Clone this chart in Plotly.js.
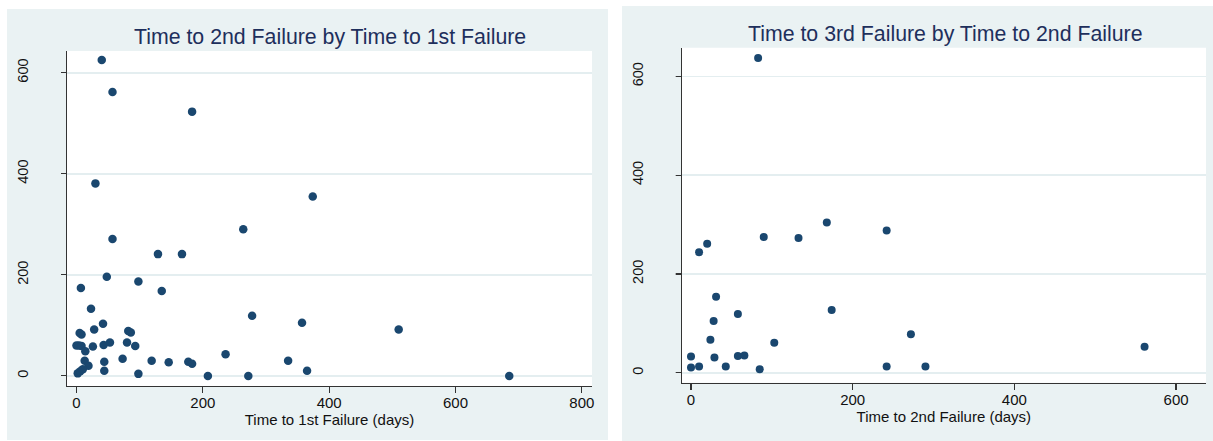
<!DOCTYPE html>
<html>
<head>
<meta charset="utf-8">
<script src="https://cdn.plot.ly/plotly-3.0.1.min.js"></script>
<style>html,body{margin:0;padding:0;background:#fff;}#chart{width:1213px;height:441px;}</style>
</head>
<body>
<div id="chart"></div>
<script>
// Left panel: Time to 1st failure (x) vs time to 2nd failure (y)
const time1st = [40, 57, 183, 30, 374, 264, 57, 129, 167, 48, 98, 7, 135, 23, 278, 357, 42, 510, 28, 82, 86, 5, 8, 0, 4, 8, 14, 26, 43, 53, 80, 93, 73, 119, 146, 177, 183, 236, 335, 44, 44, 13, 19, 2, 6, 10, 98, 208, 272, 365, 685];
const time2nd_a = [625, 562, 523, 381, 355, 290, 271, 241, 241, 196, 187, 174, 168, 133, 119, 105, 103, 92, 92, 89, 86, 85, 82, 60, 60, 59, 49, 58, 61, 66, 66, 59, 34, 30, 27, 28, 24, 43, 30, 28, 10, 30, 20, 5, 9, 13, 4, 0, 0, 10, 0];

// Right panel: Time to 2nd failure (x) vs time to 3rd failure (y)
const time2nd_b = [83, 168, 242, 90, 133, 20, 10, 31, 58, 174, 28, 24, 103, 0, 29, 58, 66, 0, 10, 43, 85, 242, 272, 290, 561];
const time3rd = [637, 304, 288, 275, 273, 261, 244, 154, 119, 127, 105, 67, 61, 33, 31, 34, 35, 11, 13, 13, 7, 13, 78, 13, 53];

const xTicksLeft = [0, 200, 400, 600, 800];
const xTicksRight = [0, 200, 400, 600];
const yTicks = [0, 200, 400, 600];

const titleLeft = "Time to 2nd Failure by Time to 1st Failure";
const titleRight = "Time to 3rd Failure by Time to 2nd Failure";
const xTitleLeft = "Time to 1st Failure (days)";
const xTitleRight = "Time to 2nd Failure (days)";

const W = 1213, H = 441;
const px = v => v / W;
const py = v => 1 - v / H;

const navy = '#1a476f';
const bgPanel = '#eaf2f3';
const gridCol = '#e4eef0';
const FONT = 'Liberation Sans, Arial, sans-serif';

const yRangeLeft = [-20, 643];
const yRangeRight = [-20, 658];
const Y_TICKLEN = 32;   // long tick so labels sit far from the axis; outer part is masked
const VIS_TICK = 6;

const traces = [
  {x: time1st, y: time2nd_a, type: 'scatter', mode: 'markers', xaxis: 'x', yaxis: 'y',
   marker: {color: navy, size: 8.5}, hoverinfo: 'x+y'},
  {x: time2nd_b, y: time3rd, type: 'scatter', mode: 'markers', xaxis: 'x2', yaxis: 'y2',
   marker: {color: navy, size: 8}, hoverinfo: 'x+y'}
];

function xAxis(domain, range, ticks, title, ya) {
  return {
    domain: domain, range: range, tickmode: 'array', tickvals: ticks, anchor: ya,
    showgrid: false, zeroline: false, showline: true, linecolor: '#333', linewidth: 1.2,
    ticks: 'outside', ticklen: 6, tickcolor: '#333', tickwidth: 1.2,
    ticklabelstandoff: -3,
    tickfont: {family: FONT, size: 15, color: '#111'},
    title: {text: title, font: {family: FONT, size: 15, color: '#111'}, standoff: 1},
    fixedrange: true
  };
}
function yAxis(domain, range, ticks, xa) {
  return {
    domain: domain, range: range, tickmode: 'array', tickvals: ticks, anchor: xa,
    showgrid: true, gridcolor: gridCol, gridwidth: 1.6, zeroline: false,
    showline: true, linecolor: '#333', linewidth: 1.2,
    ticks: 'outside', ticklen: Y_TICKLEN, tickcolor: '#333', tickwidth: 1.2,
    tickangle: -90,
    tickfont: {family: FONT, size: 14.5, color: '#111'},
    fixedrange: true
  };
}

const leftAxisX = 67, rightAxisX = 681.7;

const layout = {
  width: W, height: H,
  margin: {l: 0, r: 0, t: 0, b: 0},
  paper_bgcolor: '#ffffff',
  plot_bgcolor: 'rgba(0,0,0,0)',
  showlegend: false,
  font: {family: FONT},
  xaxis: xAxis([px(leftAxisX), px(592)], [-15, 816], xTicksLeft, xTitleLeft, 'y'),
  yaxis: yAxis([py(386), py(51)], yRangeLeft, yTicks, 'x'),
  xaxis2: xAxis([px(rightAxisX), px(1206)], [-11.5, 637], xTicksRight, xTitleRight, 'y2'),
  yaxis2: yAxis([py(382.7), py(47.7)], yRangeRight, yTicks, 'x2'),
  shapes: [
    {type: 'rect', xref: 'paper', yref: 'paper', x0: px(7), x1: px(608), y0: py(440), y1: py(9),
     fillcolor: bgPanel, line: {width: 0}, layer: 'below'},
    {type: 'rect', xref: 'paper', yref: 'paper', x0: px(622), x1: 1, y0: 0, y1: py(6),
     fillcolor: bgPanel, line: {width: 0}, layer: 'below'},
    {type: 'rect', xref: 'paper', yref: 'paper', x0: px(leftAxisX), x1: px(592), y0: py(386), y1: py(51),
     fillcolor: '#ffffff', line: {width: 0}, layer: 'below'},
    {type: 'rect', xref: 'paper', yref: 'paper', x0: px(rightAxisX), x1: px(1206), y0: py(382.7), y1: py(47.7),
     fillcolor: '#ffffff', line: {width: 0}, layer: 'below'},
    // masks hiding the outer part of the long y ticks
    {type: 'rect', xref: 'paper', yref: 'paper', x0: px(leftAxisX - Y_TICKLEN - 1.5), x1: px(leftAxisX - VIS_TICK), y0: py(392), y1: py(45),
     fillcolor: bgPanel, line: {width: 0}, layer: 'above'},
    {type: 'rect', xref: 'paper', yref: 'paper', x0: px(rightAxisX - Y_TICKLEN - 1.5), x1: px(rightAxisX - VIS_TICK), y0: py(389), y1: py(42),
     fillcolor: bgPanel, line: {width: 0}, layer: 'above'}
  ],
  annotations: [
    {text: titleLeft, xref: 'paper', yref: 'paper', x: px(330), y: py(37), xanchor: 'center', yanchor: 'middle',
     showarrow: false, font: {family: FONT, size: 21.3, color: '#1e2f5c'}},
    {text: titleRight, xref: 'paper', yref: 'paper', x: px(945), y: py(33.5), xanchor: 'center', yanchor: 'middle',
     showarrow: false, font: {family: FONT, size: 21.3, color: '#1e2f5c'}}
  ]
};

Plotly.newPlot('chart', traces, layout, {displayModeBar: false, staticPlot: true});
</script>
</body>
</html>
